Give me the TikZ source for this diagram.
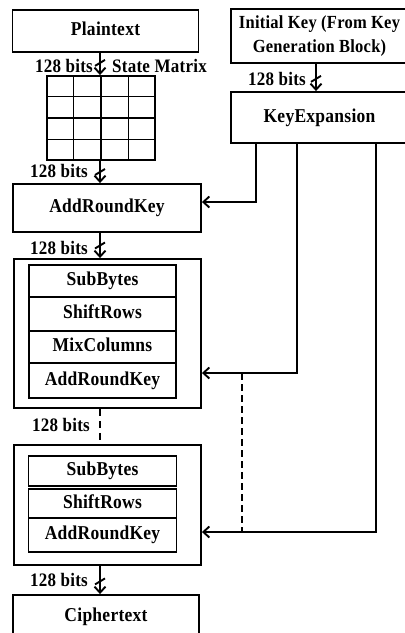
\documentclass[tikz,border=0pt]{standalone}
\usepackage{graphicx}
\usepackage{fontspec}
\setmainfont{Liberation Serif}[LetterSpace=1.5]
\usetikzlibrary{arrows.meta,calc}
\newcommand{\vs}[1]{\scalebox{1}[1.12]{\begin{tabular}{@{}c@{}}#1\end{tabular}}}
\begin{document}
\begin{tikzpicture}[x=1pt,y=-1pt,
  box/.style={draw,line width=1.9pt,inner sep=0pt,font=\fontsize{17.5}{21.5}\selectfont\bfseries,align=center},
  lab/.style={font=\fontsize{17}{20}\selectfont\bfseries,inner sep=0pt},
  ln/.style={line width=1.9pt},
  arr/.style={line width=1.9pt,-{Straight Barb[length=6pt,width=11pt,line width=1.9pt]}},
  sl/.style={line width=1.9pt}]
\useasboundingbox (0,0) rectangle (405,633);
\fill[white] (0,0) rectangle (405,633);
% left column
\node[box,minimum width=186pt,minimum height=42pt] (pt) at (105.5,31) {\vs{Plaintext}};
\node[draw,line width=1.9pt,minimum width=108pt,minimum height=84pt,inner sep=0pt] (grid) at (101,118) {};
\foreach \i in {1,2,3}{
  \draw[ln] ($(grid.north west)!\i/4!(grid.north east)$) -- ($(grid.south west)!\i/4!(grid.south east)$);
  \draw[ln] ($(grid.north west)!\i/4!(grid.south west)$) -- ($(grid.north east)!\i/4!(grid.south east)$);
}
\node[box,minimum width=188pt,minimum height=48pt] (ark1) at (107,208) {\vs{AddRoundKey}};
\node[box,minimum width=187pt,minimum height=149pt] (r1) at (107.5,333.5) {};
\node[box,minimum width=147pt,minimum height=32pt] (sb1) at (102.5,281) {\vs{SubBytes}};
\node[box,minimum width=147pt,minimum height=34pt] (sr1) at (102.5,314) {\vs{ShiftRows}};
\node[box,minimum width=147pt,minimum height=32pt] (mc1) at (102.5,347) {\vs{MixColumns}};
\node[box,minimum width=147pt,minimum height=35pt] (ak1) at (102.5,380.5) {\vs{AddRoundKey}};
\node[box,minimum width=187pt,minimum height=120pt] (r2) at (107.5,505) {};
\node[box,minimum width=148pt,minimum height=30pt] (sb2) at (102.5,471) {\vs{SubBytes}};
\node[box,minimum width=148pt,minimum height=29pt] (sr2) at (102.5,503.5) {\vs{ShiftRows}};
\node[box,minimum width=148pt,minimum height=34pt] (ak2) at (102.5,535) {\vs{AddRoundKey}};
\node[box,minimum width=186pt,minimum height=44pt] (ct) at (106,617) {\vs{Ciphertext}};
% right column
\node[box,minimum width=177pt,minimum height=54pt] (ik) at (319.5,36) {\fontsize{16.5}{21.5}\selectfont\vs{Initial Key (From Key\\Generation Block)}};
\node[box,minimum width=177pt,minimum height=51pt] (ke) at (319.5,117.5) {\vs{KeyExpansion}};
% main arrows
\coordinate (ax) at (100,0);
\draw[arr] (pt.south -| ax) -- coordinate[pos=0.45] (s1) (grid.north -| ax);
\draw[arr] (grid.south -| ax) -- coordinate[pos=0.5] (s2) (ark1.north -| ax);
\draw[arr] (ark1.south -| ax) -- coordinate[pos=0.5] (s3) (r1.north -| ax);
\draw[ln,dash pattern=on 7pt off 5pt] (r1.south -| ax) -- (r2.north -| ax);
\draw[arr] (r2.south -| ax) -- coordinate[pos=0.55] (s5) (ct.north -| ax);
\coordinate (kx) at (316,0);
\draw[arr] (ik.south -| kx) -- coordinate[pos=0.55] (s6) (ke.north -| kx);
\foreach \s in {s1,s2,s3,s5,s6}{
  \draw[sl] ([shift={(-5,3)}]\s) -- ([shift={(5,-3)}]\s);
}
% labels
\node[lab,anchor=east] (l1) at (93,68) {\vs{128 bits}};
\node[lab,anchor=west] (l1b) at (112,68) {\vs{State Matrix}};
\node[lab,anchor=east] (l2) at (88,173) {\vs{128 bits}};
\node[lab,anchor=east] (l3) at (88,250) {\vs{128 bits}};
\node[lab,anchor=east] (l4) at (90,427) {\vs{128 bits}};
\node[lab,anchor=east] (l5) at (88,582) {\vs{128 bits}};
\node[lab,anchor=east] (l6) at (306,81) {\vs{128 bits}};
% key lines
\coordinate (c1) at (256,202);
\coordinate (c2) at (297,373);
\coordinate (c3) at (376,532);
\draw[arr] (c1 |- ke.south) -- (c1) -- (c1 -| ark1.east);
\draw[arr] (c2 |- ke.south) -- (c2) -- (c2 -| r1.east);
\draw[arr] (c3 |- ke.south) -- (c3) -- (c3 -| r2.east);
\coordinate (d1) at (242,373);
\draw[ln,dash pattern=on 7pt off 4pt] (d1) -- (d1 |- c3);
\end{tikzpicture}
\end{document}
